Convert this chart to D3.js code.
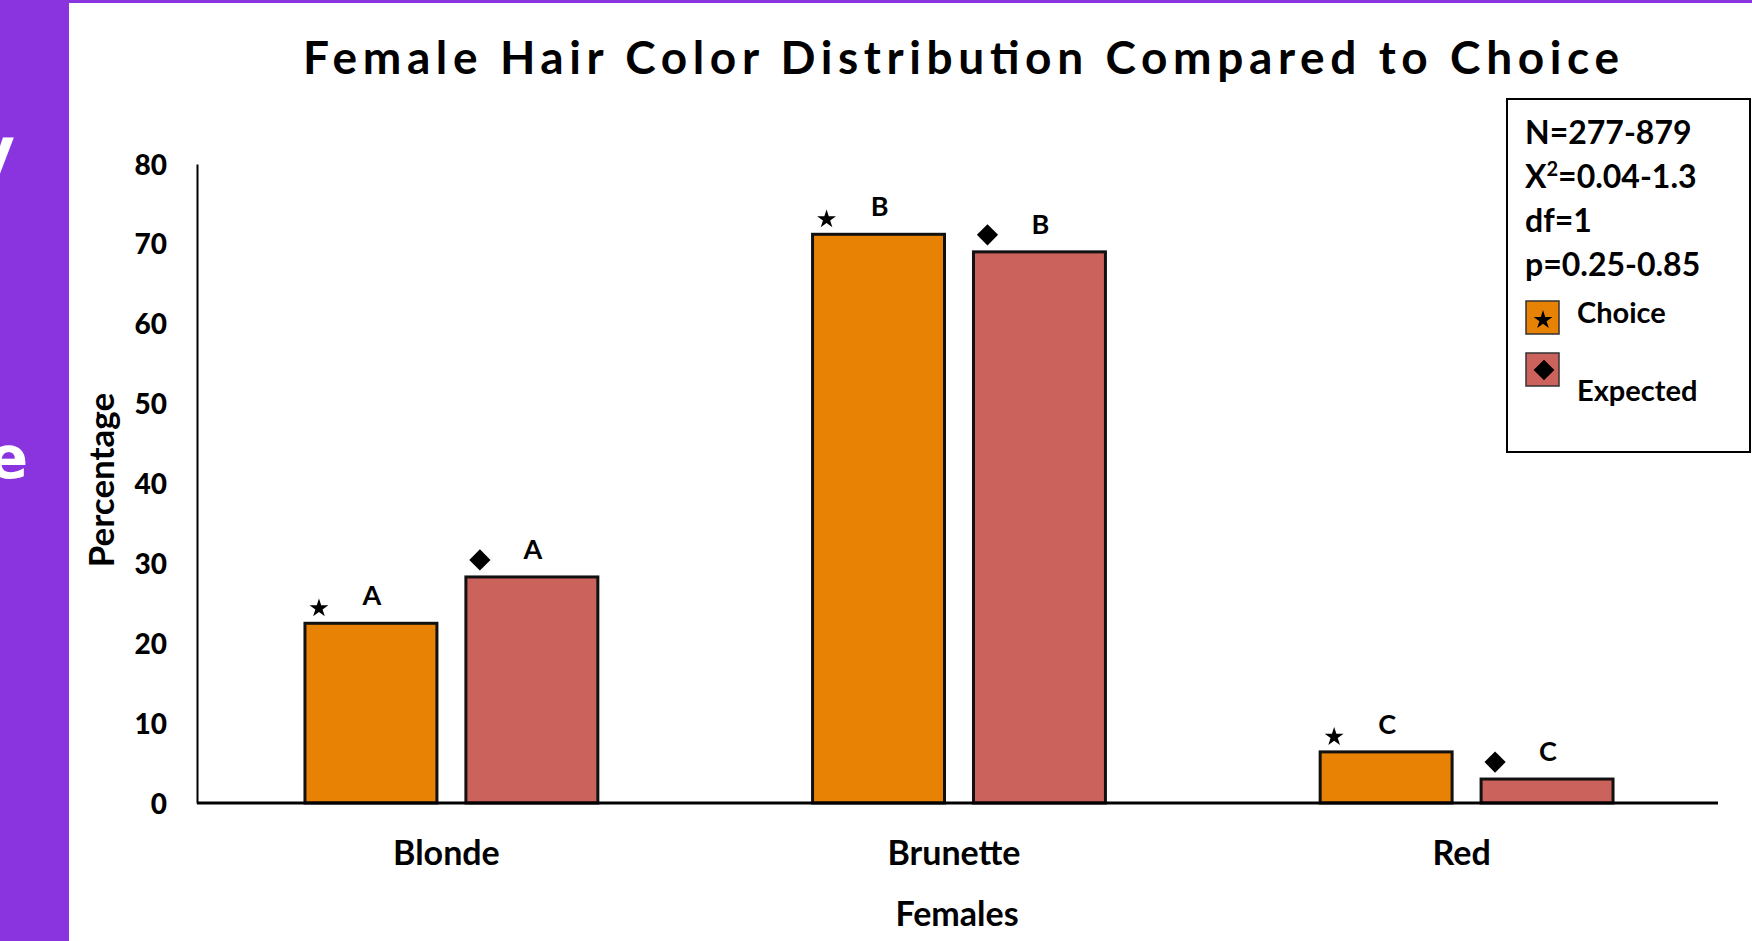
<!DOCTYPE html>
<html>
<head>
<meta charset="utf-8">
<script src="https://cdn.jsdelivr.net/npm/d3@7"></script>
<style>
  html, body { margin: 0; padding: 0; background: #fff; }
  svg { display: block; }
</style>
</head>
<body>
<script>
// ---- data ----
const categories = ["Blonde", "Brunette", "Red"];
const seriesNames = ["Choice", "Expected"];
const choiceValues = [22.5, 71.2, 6.4];
const expectedValues = [28.3, 69.0, 3.0];
const sigLetters = ["A", "B", "C"];
const yTicks = [0, 10, 20, 30, 40, 50, 60, 70, 80];
const statsLines = ["N=277-879", "X", "df=1", "p=0.25-0.85"];
const sideTexts = ["y", "e"];

const W = 1752, H = 941;
const FONT = "Lato, 'Open Sans', sans-serif";
const colors = { Choice: "#E88204", Expected: "#CC625C" };

const svg = d3.select("body").append("svg").attr("width", W).attr("height", H);

// purple side panel and top strip
svg.append("rect").attr("x", 0).attr("y", 0).attr("width", 69).attr("height", H).attr("fill", "#8A34DF");
svg.append("rect").attr("x", 0).attr("y", 0).attr("width", W).attr("height", 3).attr("fill", "#8A34DF");
svg.append("text").attr("x", 15).attr("y", 172).attr("text-anchor", "end")
  .attr("font-family", "'DejaVu Sans', sans-serif").attr("font-weight", "bold").attr("font-size", 62)
  .attr("fill", "#fff").text(sideTexts[0]);
svg.append("text").attr("x", 28).attr("y", 478).attr("text-anchor", "end")
  .attr("font-family", "'DejaVu Sans', sans-serif").attr("font-weight", "bold").attr("font-size", 58)
  .attr("fill", "#fff").text(sideTexts[1]);

// title
svg.append("text").attr("x", 303).attr("y", 74)
  .attr("font-family", FONT).attr("font-weight", "bold").attr("font-size", 46)
  .attr("textLength", 1316).attr("lengthAdjust", "spacing")
  .text("Female Hair Color Distribution Compared to Choice");

// scales
const x0 = 197, x1 = 1721, yBase = 803, yTop = 164;
const x = d3.scaleBand().domain(categories).range([x0, x1]).paddingInner(0.423).paddingOuter(0.2127);
const xs = d3.scaleBand().domain(seriesNames).range([0, x.bandwidth()]).paddingInner(0.18).paddingOuter(0);
const y = d3.scaleLinear().domain([0, 80]).range([yBase, yTop]);

// y axis
const yAxis = svg.append("g").attr("transform", `translate(${x0},0)`)
  .call(d3.axisLeft(y).tickValues(yTicks).tickSize(0).tickSizeOuter(0).tickPadding(30));
yAxis.select(".domain").attr("stroke", "#000").attr("stroke-width", 2);
yAxis.selectAll("text").attr("font-family", FONT).attr("font-weight", "900").attr("font-size", 28)
  .attr("fill", "#000").attr("dy", "0.36em");

svg.append("text")
  .attr("transform", "translate(114,480) rotate(-90)")
  .attr("text-anchor", "middle")
  .attr("font-family", FONT).attr("font-weight", "bold").attr("font-size", 35)
  .text("Percentage");

// bars
const rows = categories.map((c, i) => ({ cat: c, letter: sigLetters[i],
  vals: [{ s: "Choice", v: choiceValues[i] }, { s: "Expected", v: expectedValues[i] }] }));

const groups = svg.selectAll("g.grp").data(rows).join("g").attr("class", "grp")
  .attr("transform", d => `translate(${x(d.cat)},0)`);

groups.selectAll("rect").data(d => d.vals).join("rect")
  .attr("x", d => xs(d.s)).attr("width", xs.bandwidth())
  .attr("y", d => y(d.v)).attr("height", d => yBase - y(d.v))
  .attr("fill", d => colors[d.s]).attr("stroke", "#111").attr("stroke-width", 3);

// markers
groups.each(function (row, gi) {
  const g = d3.select(this);
  row.vals.forEach(d => {
    const left = xs(d.s), top = y(d.v);
    if (d.s === "Choice") {
      g.append("path").attr("d", d3.symbol(d3.symbolStar, 110)())
        .attr("transform", `translate(${left + 14},${top - 15})`).attr("fill", "#000");
    } else {
      g.append("path").attr("d", d3.symbol(d3.symbolSquare, 225)())
        .attr("transform", `translate(${left + 14},${top - 17}) rotate(45)`).attr("fill", "#000");
    }
    g.append("text").attr("x", left + xs.bandwidth() / 2 + 1).attr("y", top - 18)
      .attr("text-anchor", "middle").attr("font-family", FONT).attr("font-weight", "bold")
      .attr("font-size", 27).text(row.letter);
  });
});

// x axis
const xAxis = svg.append("g").attr("transform", `translate(0,${yBase})`)
  .call(d3.axisBottom(x).tickSize(0).tickSizeOuter(0));
xAxis.select(".domain").attr("stroke", "#000").attr("stroke-width", 3).attr("d", `M${x0},0H1718`);
xAxis.selectAll("text").attr("font-family", FONT).attr("font-weight", "bold").attr("font-size", 34)
  .attr("fill", "#000").attr("y", 62).attr("dy", 0).attr("dx", -5);

svg.append("text").attr("x", 957).attr("y", 926).attr("text-anchor", "middle")
  .attr("font-family", FONT).attr("font-weight", "bold").attr("font-size", 34).text("Females");

// legend
const lg = svg.append("g");
lg.append("rect").attr("x", 1507).attr("y", 99).attr("width", 243).attr("height", 353)
  .attr("fill", "#fff").attr("stroke", "#000").attr("stroke-width", 2);
const statY = [144, 188, 232, 276];
statsLines.forEach((d, i) => {
  const t = lg.append("text").attr("x", 1525).attr("y", statY[i])
    .attr("font-family", FONT).attr("font-weight", "bold").attr("font-size", 32);
  if (i === 1) {
    t.append("tspan").text("X");
    t.append("tspan").attr("font-size", 20).attr("dy", -12).text("2");
    t.append("tspan").attr("dy", 12).text("=0.04-1.3");
  } else {
    t.text(d);
  }
});

const legItems = [
  { s: seriesNames[0], sy: 301, ty: 323 },
  { s: seriesNames[1], sy: 353, ty: 401 }
];
legItems.forEach(it => {
  lg.append("rect").attr("x", 1526).attr("y", it.sy).attr("width", 33).attr("height", 33)
    .attr("fill", colors[it.s]).attr("stroke", "#333").attr("stroke-width", 1.5);
  if (it.s === "Choice") {
    lg.append("path").attr("d", d3.symbol(d3.symbolStar, 110)())
      .attr("transform", `translate(1543,${it.sy + 19})`).attr("fill", "#000");
  } else {
    lg.append("path").attr("d", d3.symbol(d3.symbolSquare, 215)())
      .attr("transform", `translate(1544,${it.sy + 17}) rotate(45)`).attr("fill", "#000");
  }
  lg.append("text").attr("x", 1577).attr("y", it.ty)
    .attr("font-family", FONT).attr("font-weight", "bold").attr("font-size", 29).text(it.s);
});
</script>
</body>
</html>
